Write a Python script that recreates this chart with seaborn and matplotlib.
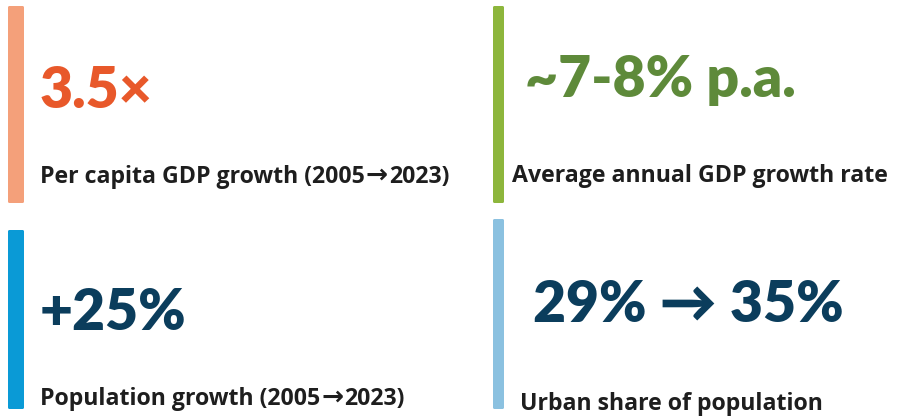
import matplotlib
matplotlib.use("Agg")
import matplotlib.pyplot as plt
import seaborn as sns
from matplotlib.patches import FancyBboxPatch

# Data
values = ["3.5×", "~7-8% p.a.", "+25%", "29% → 35%"]
labels = ["Per capita GDP growth (2005→2023)",
          "Average annual GDP growth rate",
          "Population growth (2005→2023)",
          "Urban share of population"]
value_colors = ["#E8582A", "#5E8A3A", "#0B3D5C", "#0B3D5C"]
bar_colors = ["#F4A07A", "#8DB63C", "#0A9AD6", "#8BC1E0"]

# Layout (pixels)
bar_x = [8, 493, 8, 493]
bar_top = [6, 6, 230, 219]
bar_bot = [203, 203, 409, 409]
val_x = [40, 525, 40, 533]
val_y = [108, 97, 330, 322]
lab_x = [40, 512, 40, 520]
lab_y = [183, 182, 405, 410]

sns.set_theme(style="white")
fam = ["Lato", "DejaVu Sans"]
lfam = ["Open Sans", "DejaVu Sans"]
plt.rcParams["font.family"] = fam

W, H = 897, 419
fig = plt.figure(figsize=(W / 100, H / 100), dpi=100)
ax = fig.add_axes([0, 0, 1, 1])
ax.set_xlim(0, W)
ax.set_ylim(H, 0)
ax.axis("off")
renderer = fig.canvas.get_renderer()


def draw_label(x, y, s):
    parts = s.split("→")
    for j, p in enumerate(parts):
        if j > 0:
            t = ax.text(x + 1, y, "→", color="#1E1E1E", fontsize=19,
                        fontweight="bold", ha="left", va="baseline",
                        family=["DejaVu Sans"])
            x = t.get_window_extent(renderer).x1 + 1
        t = ax.text(x, y, p, color="#1E1E1E", fontsize=16.7,
                    fontweight="bold", ha="left", va="baseline", family=lfam)
        x = t.get_window_extent(renderer).x1


for i in range(4):
    ax.add_patch(FancyBboxPatch((bar_x[i], bar_top[i]), 16 if i % 2 == 0 else 11,
                                bar_bot[i] - bar_top[i],
                                boxstyle="round,pad=0,rounding_size=1.5",
                                facecolor=bar_colors[i], edgecolor="none"))
    ax.text(val_x[i], val_y[i], values[i], color=value_colors[i], fontsize=41,
            fontweight="heavy", ha="left", va="baseline", family=fam)
    draw_label(lab_x[i], lab_y[i], labels[i])

fig.savefig("out.png", dpi=100)
